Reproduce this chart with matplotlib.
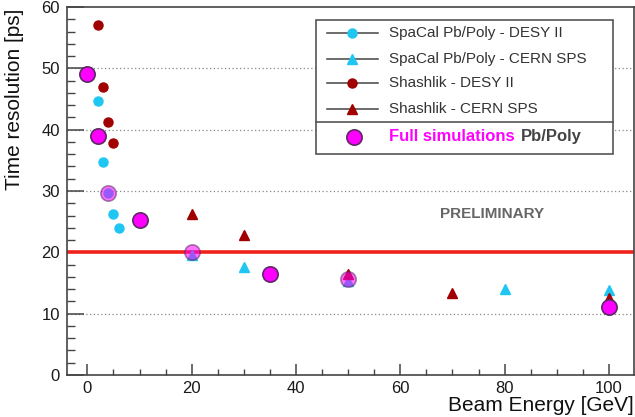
import matplotlib
matplotlib.use('Agg')
import matplotlib.pyplot as plt
from matplotlib.patches import Rectangle
from matplotlib.lines import Line2D

plt.rcParams['font.family'] = ['Liberation Sans', 'DejaVu Sans']

# Data
spacal_desy_E = [2, 3, 4, 5, 6]
spacal_desy_t = [44.6, 34.8, 29.6, 26.2, 23.9]

spacal_cern_E = [20, 30, 50, 80, 100]
spacal_cern_t = [19.6, 17.6, 15.3, 14.1, 13.8]

shashlik_desy_E = [2, 3, 4, 5]
shashlik_desy_t = [57.0, 47.0, 41.3, 37.8]

shashlik_cern_E = [20, 30, 50, 70, 100]
shashlik_cern_t = [26.2, 22.9, 16.4, 13.4, 12.5]

sim_E = [0, 2, 4, 10, 20, 35, 50, 100]
sim_t = [49.1, 39.0, 29.7, 25.2, 20.0, 16.5, 15.6, 11.1]

threshold = 20

legend_labels = ['SpaCal Pb/Poly - DESY II', 'SpaCal Pb/Poly - CERN SPS',
                 'Shashlik - DESY II', 'Shashlik - CERN SPS']

CYAN = '#1fc6f2'
DARKRED = '#a00000'
MAGENTA = '#ff00ff'
SIM_EDGE = '#5b2a63'
GREY = '#333333'

W, H = 635, 417
fig = plt.figure(figsize=(W / 100, H / 100), dpi=100)
ax = fig.add_axes([67 / W, 1 - 375 / H, (634 - 67) / W, (375 - 7) / H])


def px(x, y):
    # figure pixel -> figure fraction
    return x / W, 1 - y / H


# grid and threshold line
for y in range(10, 60, 10):
    ax.axhline(y, color='#888888', lw=0.9, ls=(0, (1, 2)), zorder=1)
ax.axhline(threshold, color='#f0221a', lw=2.6, zorder=2)

# measurements
ax.plot(spacal_desy_E, spacal_desy_t, 'o', color=CYAN, ms=6.5, mec=CYAN, zorder=3)
ax.plot(spacal_cern_E, spacal_cern_t, '^', color=CYAN, ms=6.5, mec=CYAN, zorder=3)
ax.plot(shashlik_desy_E, shashlik_desy_t, 'o', color=DARKRED, ms=6.5, mec=DARKRED, zorder=3)
ax.plot(shashlik_cern_E, shashlik_cern_t, '^', color=DARKRED, ms=6.5, mec=DARKRED, zorder=3)

# full simulations (some drawn see-through, overlapping the data)
faded = {4, 20, 50}
for e, t in zip(sim_E, sim_t):
    a = 0.55 if e in faded else 1.0
    ax.plot(e, t, 'o', ms=11, mfc=MAGENTA, mec=SIM_EDGE, mew=1.2, alpha=a, zorder=4)

ax.set_xlim(-3.9, 104.8)
ax.set_ylim(0, 60)

ax.set_xticks(range(0, 101, 20))
ax.set_xticks(range(0, 105, 5), minor=True)
ax.set_yticks(range(0, 61, 10))
ax.set_yticks(range(0, 61, 2), minor=True)

ax.tick_params(axis='x', which='major', direction='in', length=8, width=1.1, colors='#444444',
               labelcolor='#1a1a1a', labelsize=12, pad=4)
ax.tick_params(axis='x', which='minor', direction='in', length=4, width=1.0, colors='#444444')
ax.tick_params(axis='y', which='major', direction='in', length=12, width=1.1, colors='#444444',
               labelcolor='#1a1a1a', labelsize=12, pad=5)
ax.tick_params(axis='y', which='minor', direction='in', length=6, width=1.0, colors='#444444')

for s in ax.spines.values():
    s.set_color('#444444')
    s.set_linewidth(1.2)

ax.set_ylabel('Time resolution [ps]', fontsize=15, loc='top', color='#111111')
ax.yaxis.set_label_coords(-0.075, 0.995)
ax.set_xlabel('Beam Energy [GeV]', fontsize=15, loc='right', color='#111111', labelpad=0)

ax.text(77.5, 26.3, 'PRELIMINARY', fontsize=11, fontweight='bold', color='#666666',
        ha='center', va='center', zorder=5)

# legend box drawn by hand (ROOT style, with separator)
x0, y0 = px(315.7, 154.3)
x1, y1 = px(613.3, 20)
fig.add_artist(Rectangle((x0, y0), x1 - x0, y1 - y0, transform=fig.transFigure,
                         fc='white', ec='#555555', lw=1.2, zorder=10))
sx0, sy = px(315.7, 121.7)
fig.add_artist(Line2D([x0, x1], [sy, sy], transform=fig.transFigure, color='#555555',
                      lw=1.2, zorder=11))

rows = [33.3, 59, 83.3, 109]
styles = [('o', CYAN), ('^', CYAN), ('o', DARKRED), ('^', DARKRED)]
for row, (m, c), lab in zip(rows, styles, legend_labels):
    lx0, ly = px(326.7, row)
    lx1, _ = px(378.3, row)
    mx, _ = px(351.7, row)
    tx, _ = px(389, row)
    fig.add_artist(Line2D([lx0, lx1], [ly, ly], transform=fig.transFigure, color='#444444',
                          lw=1.1, zorder=11))
    fig.add_artist(Line2D([mx], [ly], transform=fig.transFigure, marker=m, ms=6.5, color=c,
                          mec=c, lw=0, zorder=12))
    fig.text(tx, ly, lab, fontsize=11, color=GREY, ha='left', va='center', zorder=12)

mx, ly = px(354, 136.7)
fig.add_artist(Line2D([mx], [ly], transform=fig.transFigure, marker='o', ms=11, mfc=MAGENTA,
                      mec=SIM_EDGE, mew=1.2, lw=0, zorder=12))
tx, _ = px(389, 136.7)
t1 = fig.text(tx, ly, 'Full simulations', fontsize=12, fontweight='bold', color=MAGENTA,
              ha='left', va='center', zorder=12)
fig.canvas.draw()
bb = t1.get_window_extent()
fig.text(bb.x1 / W + 6 / W, ly, 'Pb/Poly', fontsize=12, fontweight='bold', color='#444444',
         ha='left', va='center', zorder=12)

fig.savefig('out.png', dpi=100)
